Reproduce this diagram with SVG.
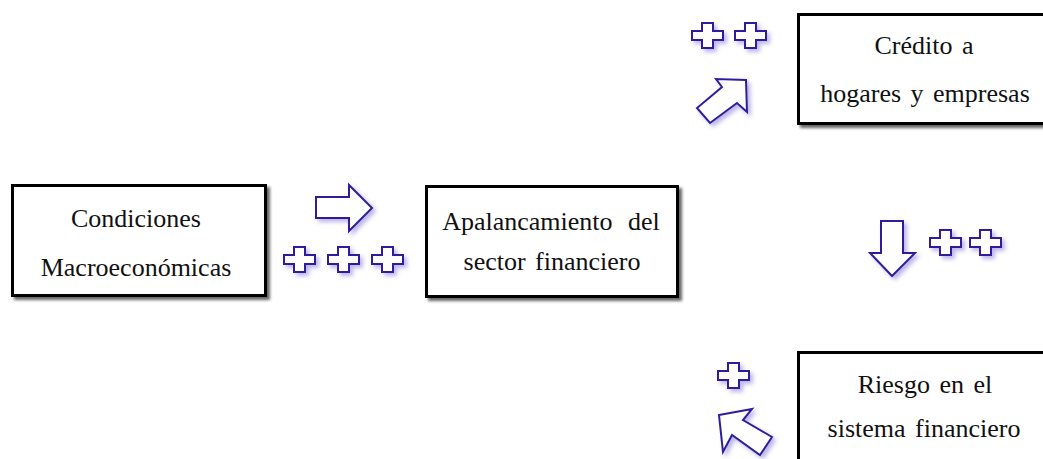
<svg xmlns="http://www.w3.org/2000/svg" xmlns:xlink="http://www.w3.org/1999/xlink" width="1043" height="459" viewBox="0 0 1043 459">
<style>
.box{fill:#fff;stroke:#000;stroke-width:3;filter:url(#bs)}
.lbl{font-family:"Liberation Serif","Times New Roman",serif;font-size:26px;fill:#111;text-anchor:middle;word-spacing:3px}
.sym{fill:#fff;stroke:#2E1F9C;stroke-width:2;stroke-linejoin:miter;filter:url(#ps)}
</style>
<defs>
<filter id="bs" x="-10%" y="-10%" width="125%" height="130%">
<feGaussianBlur in="SourceAlpha" stdDeviation="1.5"/>
<feOffset dx="3" dy="3" result="b"/>
<feFlood flood-color="#000" flood-opacity="0.6"/>
<feComposite in2="b" operator="in"/>
<feMerge><feMergeNode/><feMergeNode in="SourceGraphic"/></feMerge>
</filter>
<filter id="ps" x="-30%" y="-30%" width="170%" height="170%">
<feGaussianBlur in="SourceAlpha" stdDeviation="2"/>
<feOffset dx="3" dy="3" result="b"/>
<feFlood flood-color="#6A5ACD" flood-opacity="0.45"/>
<feComposite in2="b" operator="in"/>
<feMerge><feMergeNode/><feMergeNode in="SourceGraphic"/></feMerge>
</filter>
<path id="plus" d="M10,0 H21 V8 H31 V17 H21 V25 H10 V17 H0 V8 H10 Z"/>
</defs>

<g id="node-condiciones">
<rect class="box" x="12.5" y="185.5" width="253" height="110"/>
<text class="lbl" x="136" y="227">Condiciones</text>
<text class="lbl" x="136" y="276">Macroeconómicas</text>
</g>

<g id="node-apalancamiento">
<rect class="box" x="426.5" y="186.5" width="251" height="110"/>
<text class="lbl" x="551" y="230" style="word-spacing:9px">Apalancamiento del</text>
<text class="lbl" x="552" y="270">sector financiero</text>
</g>

<g id="node-credito">
<rect class="box" x="798.5" y="14.5" width="260" height="109"/>
<text class="lbl" x="924" y="54">Crédito a</text>
<text class="lbl" x="925" y="102">hogares y empresas</text>
</g>

<g id="node-riesgo">
<rect class="box" x="798.5" y="352.5" width="260" height="130"/>
<text class="lbl" x="925" y="393">Riesgo en el</text>
<text class="lbl" x="924" y="437">sistema financiero</text>
</g>

<g id="connectors">
<path class="sym" d="M316,197 H349 V185 L372,208 L349,231 V218 H316 Z"/>
<use class="sym" xlink:href="#plus" href="#plus" x="284" y="247"/>
<use class="sym" xlink:href="#plus" href="#plus" x="328" y="247"/>
<use class="sym" xlink:href="#plus" href="#plus" x="372" y="247"/>

<path class="sym" d="M746,80 L747,112 L737,103 L710,123 L697,108 L722,87 L716,79 Z"/>
<use class="sym" xlink:href="#plus" href="#plus" x="692" y="23"/>
<use class="sym" xlink:href="#plus" href="#plus" x="735" y="23"/>

<path class="sym" d="M881,221 H903 V253 H915 L892,276 L870,253 H881 Z"/>
<use class="sym" xlink:href="#plus" href="#plus" x="930" y="230"/>
<use class="sym" xlink:href="#plus" href="#plus" x="970" y="230"/>

<path class="sym" d="M719,415 L752,409 L743,420 L772,437 L760,455 L732,435 L723,452 Z"/>
<use class="sym" xlink:href="#plus" href="#plus" x="718" y="363"/>
</g>
</svg>
